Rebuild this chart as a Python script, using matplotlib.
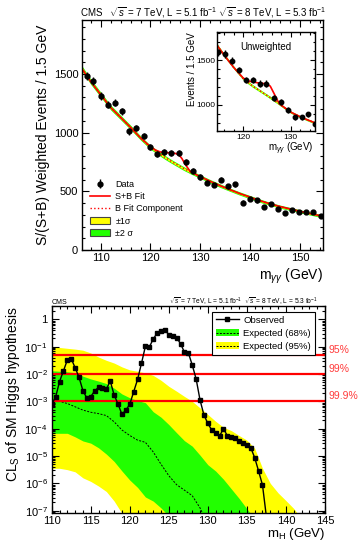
import numpy as np
import matplotlib
matplotlib.use('Agg')
import matplotlib.pyplot as plt
from matplotlib.patches import Patch
from matplotlib.lines import Line2D
from matplotlib.ticker import MultipleLocator, FixedLocator, FixedFormatter, LogLocator, NullFormatter

plt.rcParams['font.family'] = ['Liberation Sans', 'DejaVu Sans']
plt.rcParams['mathtext.fontset'] = 'custom'
plt.rcParams['mathtext.rm'] = 'Liberation Sans'
plt.rcParams['mathtext.it'] = 'Liberation Sans:italic'
plt.rcParams['mathtext.bf'] = 'Liberation Sans:bold'

# ---- top: S/(S+B) weighted diphoton mass ----
mgg = [107.2, 108.5, 110.0, 111.4, 112.9, 114.3, 115.7, 117.1, 118.6, 120.0, 121.4, 122.8,
       124.2, 125.7, 127.1, 128.5, 129.9, 131.3, 132.8, 134.2, 135.6, 137.0, 138.5, 139.9,
       141.3, 142.7, 144.2, 145.6, 147.0, 148.4, 149.9, 151.3, 152.7, 154.2]
weighted = [1483, 1440, 1313, 1239, 1256, 1182, 1012, 1038, 972, 875, 815, 832,
            826, 826, 749, 674, 622, 574, 554, 597, 542, 559, 404, 436,
            422, 370, 396, 353, 313, 341, 324, 324, 321, 287]
weighted_err = [34, 34, 32, 31, 31, 30, 28, 28, 27, 26, 25, 25,
                25, 25, 24, 23, 22, 21, 21, 21, 20, 20, 18, 18,
                18, 17, 17, 17, 16, 16, 16, 16, 16, 15]

fit_m = [106.2, 108, 110, 112, 114, 116, 118, 120, 121, 122, 123, 124, 125, 125.7, 126.3,
         127, 127.6, 128, 130, 132, 134, 136, 138, 140, 142, 144, 146, 148, 150, 152, 154.6]
bkg_fit = [1549, 1435, 1325, 1215, 1130, 1045, 955, 875, 845, 815, 787, 760, 735, 718, 703,
           687, 675, 665, 625, 585, 548, 513, 480, 450, 420, 393, 370, 350, 330, 311, 287]
sb_fit = [1549, 1435, 1325, 1215, 1130, 1045, 955, 880, 852, 835, 830, 828, 823, 812, 780,
          728, 692, 668, 625, 585, 548, 513, 480, 450, 420, 393, 370, 350, 330, 311, 287]
band2 = [24, 23, 22, 21, 20, 19, 18, 17, 17, 17, 17, 16, 16, 16, 16,
         16, 16, 16, 15, 15, 15, 14, 14, 14, 14, 13, 13, 13, 13, 13, 13]
band1 = [12, 11, 11, 10, 10, 9, 9, 8, 8, 8, 8, 8, 8, 8, 8,
         8, 8, 8, 7, 7, 7, 7, 7, 7, 7, 6, 6, 6, 6, 6, 6]

# inset: unweighted
um = [114.7, 116.1, 117.6, 119.1, 120.6, 122.0, 123.5, 124.9, 126.4, 127.9, 129.4, 130.8,
      132.3, 133.7, 135.1]
uevt = [1586, 1568, 1492, 1387, 1274, 1274, 1237, 1237, 1079, 1030, 940, 861, 861, 891, 786]
uerr = [40, 40, 39, 37, 36, 36, 35, 35, 33, 32, 31, 29, 29, 30, 28]
ufit_m = [114.6, 116, 118, 120, 121, 122, 123, 124, 125, 125.7, 126.5, 127.3, 127.8,
          130, 132, 134, 135.1]
ubkg = [1660, 1556, 1419, 1293, 1250, 1210, 1175, 1140, 1105, 1080, 1050, 1020, 1000,
        917, 865, 820, 797]
usb = [1660, 1556, 1419, 1300, 1268, 1255, 1246, 1240, 1232, 1208, 1125, 1040, 1003,
       917, 865, 820, 797]
uband2 = [18, 17, 16, 15, 15, 15, 14, 14, 14, 14, 14, 13, 13, 13, 12, 12, 12]
uband1 = [9, 8, 8, 8, 7, 7, 7, 7, 7, 7, 7, 7, 7, 6, 6, 6, 6]

# ---- bottom: CLs (log10 values) ----
obs_m = [110.0, 110.5, 111.0, 111.5, 112.0, 112.5, 113.0, 113.5, 114.0, 114.5, 115.0, 115.5,
         116.0, 116.5, 117.0, 117.5, 118.0, 118.5, 119.0, 119.5, 120.0, 120.5, 121.0, 121.5,
         122.0, 122.5, 123.0, 123.5, 124.0, 124.5, 125.0, 125.5, 126.0, 126.5, 127.0, 127.5,
         128.0, 128.5, 129.0, 129.5, 130.0, 130.5, 131.0, 131.5, 132.0, 132.5, 133.0, 133.5,
         134.0, 134.5, 135.0, 135.5, 136.0, 136.5, 137.0, 137.5]
obs_log = [-3.10, -2.85, -2.28, -1.89, -1.49, -1.44, -1.77, -2.12, -2.61, -2.88, -2.83, -2.62,
           -2.49, -2.53, -2.55, -2.26, -2.77, -3.10, -3.48, -3.32, -3.11, -2.65, -2.20, -1.61,
           -0.99, -1.02, -0.72, -0.51, -0.44, -0.39, -0.56, -0.61, -0.67, -0.89, -1.20, -1.22,
           -1.67, -2.18, -2.95, -3.50, -3.81, -4.05, -4.17, -4.27, -4.00, -4.26, -4.30, -4.33,
           -4.44, -4.52, -4.60, -4.70, -5.06, -5.55, -6.06, -7.22]

exp_m = list(range(110, 143))
yel_hi = [-1.00, -1.03, -1.06, -1.09, -1.13, -1.23, -1.38, -1.50, -1.60, -1.74, -1.85, -1.90,
          -1.96, -2.05, -2.23, -2.45, -2.63, -2.82, -3.00, -3.24, -3.48, -3.73, -3.95, -4.07,
          -4.25, -4.42, -4.72, -5.45, -6.00, -6.35, -6.63, -6.92, -7.30]
grn_hi = [-1.88, -1.90, -1.92, -1.95, -2.08, -2.18, -2.26, -2.35, -2.52, -2.73, -2.87, -2.97,
          -3.05, -3.38, -3.58, -3.85, -4.15, -4.44, -4.64, -4.97, -5.32, -5.55, -5.85, -6.20,
          -6.55, -6.93, -7.30, -8, -8, -8, -8, -8, -8]
grn_lo = [-4.17, -4.17, -4.17, -4.30, -4.45, -4.53, -4.70, -4.93, -5.20, -5.55, -5.88, -6.15,
          -6.50, -6.65, -6.90, -7.20, -8, -8, -8, -8, -8, -8, -8, -8,
          -8, -8, -8, -8, -8, -8, -8, -8, -8]
yel_lo = [-5.45, -5.45, -5.50, -5.58, -5.80, -5.93, -6.10, -6.30, -6.65, -7.10, -7.50, -8,
          -8, -8, -8, -8, -8, -8, -8, -8, -8, -8, -8, -8,
          -8, -8, -8, -8, -8, -8, -8, -8, -8]
med_m = [110, 111, 112, 113, 114, 115, 116, 117, 118, 119, 120, 121, 122, 123, 124, 125,
         126, 127, 128, 129, 130]
med_log = [-2.95, -3.00, -3.08, -3.20, -3.32, -3.40, -3.45, -3.52, -3.75, -4.05, -4.25, -4.42,
           -4.50, -4.85, -5.30, -5.72, -6.05, -6.25, -6.45, -6.90, -7.50]

cl_levels = [0.05, 0.01, 0.001]
cl_labels = ['95%', '99%', '99.9%']

yellow = '#ffff00'
green = '#22ff00'

fig = plt.figure(figsize=(3.6, 5.42), dpi=100)


def root_ticks(ax):
    ax.tick_params(which='both', direction='in', top=True, right=True, width=0.8)
    ax.tick_params(which='major', length=5)
    ax.tick_params(which='minor', length=2.5)
    for s in ax.spines.values():
        s.set_linewidth(1.0)


# top main panel
ax1 = fig.add_axes([0.227, 0.5387, 0.670, 0.4244])
fm = np.array(fit_m)
bk = np.array(bkg_fit)
h2 = ax1.fill_between(fm, bk - np.array(band2), bk + np.array(band2), color=green, lw=0)
h1 = ax1.fill_between(fm, bk - np.array(band1), bk + np.array(band1), color=yellow, lw=0)
lb, = ax1.plot(fm, bk, color='red', ls=':', lw=1.0)
ls, = ax1.plot(fm, sb_fit, color='red', ls='-', lw=1.2)
hd = ax1.errorbar(mgg, weighted, yerr=weighted_err, fmt='o', color='black', ms=3.5,
                  elinewidth=1.0, capsize=0)
ax1.set_xlim(106.2, 154.6)
ax1.set_ylim(0, 1960)
ax1.xaxis.set_major_locator(MultipleLocator(10))
ax1.xaxis.set_minor_locator(MultipleLocator(2))
ax1.yaxis.set_major_locator(MultipleLocator(500))
ax1.yaxis.set_minor_locator(MultipleLocator(100))
root_ticks(ax1)
ax1.tick_params(labelsize=8, pad=2.5)
leg1 = ax1.legend([hd, ls, lb, Patch(facecolor=yellow, edgecolor='#444444', lw=0.8),
                   Patch(facecolor=green, edgecolor='#444444', lw=0.8)],
                  ['Data', 'S+B Fit', 'B Fit Component', '±1σ', '±2 σ'],
                  loc='upper left', bbox_to_anchor=(0.02, 0.32), frameon=False,
                  fontsize=6.5, labelspacing=0.35, handlelength=2.2, handletextpad=0.6,
                  borderaxespad=0)

fig.text(80 / 360, 1 - 13 / 542,
         r'CMS   $\sqrt{s}$ = 7 TeV, L = 5.1 fb$^{-1}$ $\sqrt{s}$ = 8 TeV, L = 5.3 fb$^{-1}$',
         fontsize=7, ha='left', va='center')
fig.text(43 / 360, 1 - 135 / 542, 'S/(S+B) Weighted Events / 1.5 GeV', rotation=90,
         fontsize=10, ha='center', va='center')
fig.text(323 / 360, 1 - 276 / 542, r'm$_{\gamma\gamma}$ (GeV)', fontsize=10,
         ha='right', va='center')

# inset
ax2 = fig.add_axes([0.604, 0.7574, 0.271, 0.1836])
ufm = np.array(ufit_m)
ubk = np.array(ubkg)
ax2.fill_between(ufm, ubk - np.array(uband2), ubk + np.array(uband2), color=green, lw=0)
ax2.fill_between(ufm, ubk - np.array(uband1), ubk + np.array(uband1), color=yellow, lw=0)
ax2.plot(ufm, ubk, color='red', ls=':', lw=1.0)
ax2.plot(ufm, usb, color='red', ls='-', lw=1.2)
ax2.errorbar(um, uevt, yerr=uerr, fmt='o', color='black', ms=3.2, elinewidth=1.0, capsize=0)
ax2.set_xlim(114.6, 135.1)
ax2.set_ylim(700, 1815)
ax2.xaxis.set_major_locator(MultipleLocator(10))
ax2.xaxis.set_minor_locator(MultipleLocator(2))
ax2.yaxis.set_major_locator(MultipleLocator(500))
ax2.yaxis.set_minor_locator(MultipleLocator(100))
root_ticks(ax2)
ax2.tick_params(which='major', length=3.5)
ax2.tick_params(which='minor', length=1.8)
ax2.tick_params(labelsize=6, pad=1.5)
ax2.text(0.5, 0.85, 'Unweighted', transform=ax2.transAxes, fontsize=7, ha='center', va='center')
fig.text(192 / 360, 1 - 32 / 542, 'Events / 1.5 GeV', rotation=90, fontsize=7,
         ha='center', va='top')
fig.text(313 / 360, 1 - 149 / 542, r'm$_{\gamma\gamma}$ (GeV)', fontsize=7,
         ha='right', va='center')

# bottom CLs panel
ax3 = fig.add_axes([0.1436, 0.054, 0.759, 0.3814])
em = np.array(exp_m)
ax3.fill_between(em, 10.0 ** np.array(yel_lo), 10.0 ** np.array(yel_hi), color=yellow, lw=0)
ax3.fill_between(em, 10.0 ** np.array(grn_lo), 10.0 ** np.array(grn_hi), color=green, lw=0)
ax3.plot(med_m, 10.0 ** np.array(med_log), color='black', ls=(0, (2, 1.5)), lw=0.7)
for lvl, lab in zip(cl_levels, cl_labels):
    ax3.axhline(lvl, color='red', lw=1.6)
    ax3.text(1.012, lvl, lab, transform=ax3.get_yaxis_transform(), color='#ff3b3b',
             fontsize=7.5, ha='left', va='bottom')
ax3.plot(obs_m, 10.0 ** np.array(obs_log), color='black', lw=1.0, marker='s', ms=2.2)
ax3.set_yscale('log')
ax3.set_xlim(110, 145)
ax3.set_ylim(8.4e-8, 3.07)
ax3.xaxis.set_major_locator(MultipleLocator(5))
ax3.xaxis.set_minor_locator(MultipleLocator(1))
dec = [1e-7, 1e-6, 1e-5, 1e-4, 1e-3, 1e-2, 1e-1, 1]
ax3.yaxis.set_major_locator(FixedLocator(dec))
ax3.yaxis.set_major_formatter(FixedFormatter([r'10$^{-7}$', r'10$^{-6}$', r'10$^{-5}$',
                                              r'10$^{-4}$', r'10$^{-3}$', r'10$^{-2}$',
                                              r'10$^{-1}$', '1']))
ax3.yaxis.set_minor_locator(LogLocator(base=10, subs=np.arange(2, 10), numticks=20))
ax3.yaxis.set_minor_formatter(NullFormatter())
root_ticks(ax3)
ax3.tick_params(labelsize=8, pad=3)
ax3.tick_params(axis='x', pad=2)

obs_h = Line2D([], [], color='black', lw=1.0, marker='s', ms=2.2)
med_h = Line2D([], [], color='black', ls=(0, (2, 1.5)), lw=0.7)
leg3 = ax3.legend([obs_h, (Patch(facecolor=green, lw=0), med_h),
                   (Patch(facecolor=yellow, lw=0), med_h)],
                  ['Observed', 'Expected (68%)', 'Expected (95%)'],
                  loc='upper right', bbox_to_anchor=(0.963, 0.972), borderaxespad=0,
                  fontsize=6.8, fancybox=False, edgecolor='black', framealpha=1,
                  handlelength=2.4, labelspacing=0.45, borderpad=0.4, handletextpad=0.5)
leg3.get_frame().set_linewidth(0.8)

fig.text(52 / 360, 1 - 302 / 542, 'CMS', fontsize=5, ha='left', va='center')
fig.text(318 / 360, 1 - 302 / 542,
         r'$\sqrt{s}$ = 7 TeV, L = 5.1 fb$^{-1}$  $\sqrt{s}$ = 8 TeV, L = 5.3 fb$^{-1}$',
         fontsize=4.8, ha='right', va='center')
fig.text(13 / 360, 1 - 306 / 542, r'CL$_{\mathrm{S}}$ of SM Higgs hypothesis', rotation=90,
         fontsize=10, ha='center', va='top')
fig.text(325 / 360, 1 - 541.5 / 542, r'm$_{\mathrm{H}}$ (GeV)', fontsize=9.5,
         ha='right', va='bottom')

fig.savefig('out.png', dpi=100)
